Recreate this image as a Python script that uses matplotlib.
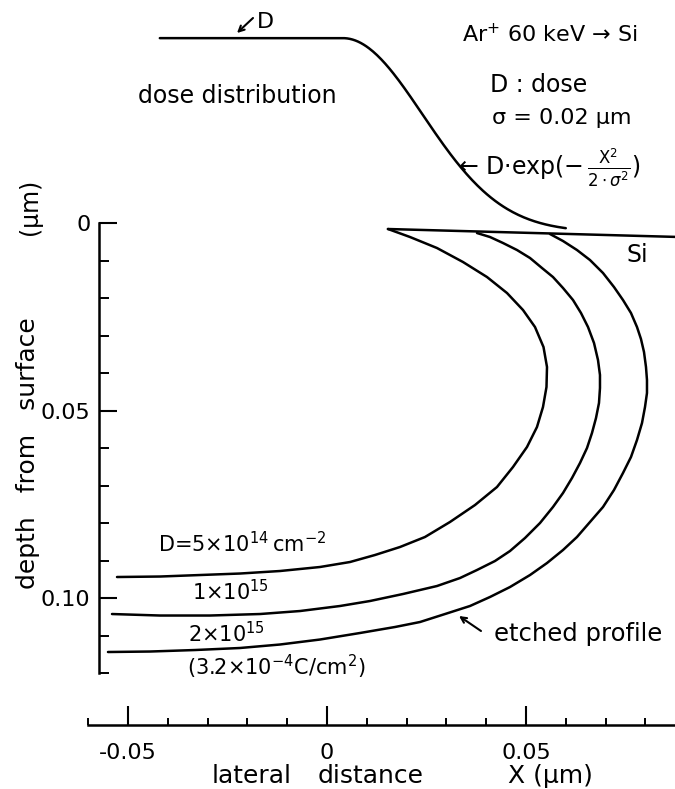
import numpy as np
import matplotlib
matplotlib.use("Agg")
import matplotlib.pyplot as plt
from matplotlib.ticker import FixedLocator, FixedFormatter

plt.rcParams['font.family'] = ['DejaVu Sans']
plt.rcParams['mathtext.fontset'] = 'dejavusans'

# ---- etched profiles: lateral position X (um) and depth from surface (um) ----
# D = 5e14 cm^-2
profile_5e14_x = [-0.05276, -0.04196, -0.03191, -0.02186, -0.01181, -0.00176, 0.00578,
                  0.01206, 0.01834, 0.02462, 0.03090, 0.03719, 0.04271, 0.04673,
                  0.05025, 0.05276, 0.05427, 0.05515, 0.05528, 0.05440, 0.05226,
                  0.04925, 0.04523, 0.04020, 0.03417, 0.02764, 0.02085, 0.01533]
profile_5e14_depth = [0.09440, 0.09427, 0.09387, 0.09347, 0.09280, 0.09173, 0.09040,
                      0.08853, 0.08640, 0.08373, 0.07973, 0.07520, 0.07040, 0.06507,
                      0.05973, 0.05440, 0.04907, 0.04373, 0.03840, 0.03307, 0.02773,
                      0.02320, 0.01867, 0.01440, 0.01040, 0.00667, 0.00373, 0.00160]

# D = 1e15 cm^-2
profile_1e15_x = [-0.05402, -0.04196, -0.02940, -0.01683, -0.00678, 0.00327, 0.01080,
                  0.01910, 0.02764, 0.03342, 0.03769, 0.04221, 0.04598, 0.04975,
                  0.05352, 0.05678, 0.05930, 0.06156, 0.06357, 0.06533, 0.06658,
                  0.06759, 0.06834, 0.06859, 0.06859, 0.06809, 0.06709, 0.06558,
                  0.06382, 0.06181, 0.05930, 0.05678, 0.05402, 0.05101, 0.04774,
                  0.04422, 0.04095, 0.03769]
profile_1e15_depth = [0.10427, 0.10467, 0.10467, 0.10427, 0.10347, 0.10213, 0.10080,
                      0.09893, 0.09680, 0.09467, 0.09253, 0.09013, 0.08747, 0.08400,
                      0.08000, 0.07573, 0.07200, 0.06800, 0.06400, 0.06000, 0.05600,
                      0.05200, 0.04800, 0.04400, 0.04053, 0.03653, 0.03200, 0.02773,
                      0.02400, 0.02053, 0.01733, 0.01440, 0.01200, 0.00933, 0.00720,
                      0.00533, 0.00373, 0.00267]

# D = 2e15 cm^-2
profile_2e15_x = [-0.05503, -0.04447, -0.03317, -0.02186, -0.01181, -0.00176, 0.00829,
                  0.01709, 0.02337, 0.02965, 0.03593, 0.04095, 0.04598, 0.05101,
                  0.05528, 0.05930, 0.06281, 0.06608, 0.06935, 0.07211, 0.07437,
                  0.07638, 0.07789, 0.07915, 0.07990, 0.08040, 0.08040, 0.08015,
                  0.07965, 0.07889, 0.07789, 0.07638, 0.07437, 0.07211, 0.06935,
                  0.06608, 0.06281, 0.05930, 0.05603]
profile_2e15_depth = [0.11440, 0.11427, 0.11387, 0.11333, 0.11240, 0.11107, 0.10933,
                      0.10773, 0.10640, 0.10427, 0.10213, 0.09973, 0.09707, 0.09387,
                      0.09067, 0.08720, 0.08373, 0.07973, 0.07573, 0.07120, 0.06667,
                      0.06240, 0.05787, 0.05333, 0.04907, 0.04533, 0.04187, 0.03840,
                      0.03440, 0.03093, 0.02773, 0.02400, 0.02053, 0.01707, 0.01333,
                      0.00987, 0.00720, 0.00480, 0.00293]

# Si surface line
surface_x = [0.0153, 0.08744]
surface_depth = [0.0016, 0.0037]

# dose distribution D*exp(-X^2 / (2 sigma^2)) beyond the mask edge
SIGMA = 0.02          # um
DOSE_EDGE = 0.004     # um, start of the Gaussian fall-off
dose_x = np.linspace(-0.042, 0.060, 300)
dose_rel = np.where(dose_x < DOSE_EDGE, 1.0,
                    np.exp(-(dose_x - DOSE_EDGE) ** 2 / (2 * SIGMA ** 2)))
# vertical placement of the schematic dose curve above the surface
DOSE_BASE = 0.0024
DOSE_TOP = -0.0493

# axis ticks
x_major = [-0.05, 0.0, 0.05]
x_major_labels = ['-0.05', '0', '0.05']
x_minor = [-0.06, -0.04, -0.03, -0.02, -0.01, 0.01, 0.02, 0.03, 0.04, 0.06, 0.07, 0.08]
y_major = [0.0, 0.05, 0.10]
y_major_labels = ['0', '0.05', '0.10']
y_minor = [0.01, 0.02, 0.03, 0.04, 0.06, 0.07, 0.08, 0.09, 0.11, 0.12]

W, H = 675, 789
fig = plt.figure(figsize=(W / 100, H / 100), dpi=100)
ax = fig.add_axes([0, 0, 1, 1])
ax.set_xlim(-0.08216, 0.08744)
ax.set_ylim(0.15093, -0.05947)
ax.patch.set_visible(False)


def pos(px, py):
    """Figure-fraction position from pixel coordinates (origin top-left)."""
    return px / W, 1 - py / H


LW = 1.8
line_kw = dict(color='black', lw=LW, solid_capstyle='round', solid_joinstyle='round')
for xs, ds in [(profile_5e14_x, profile_5e14_depth),
               (profile_1e15_x, profile_1e15_depth),
               (profile_2e15_x, profile_2e15_depth)]:
    ax.plot(xs, ds, **line_kw)
ax.plot(surface_x, surface_depth, **line_kw)
ax.plot(dose_x, DOSE_BASE + (DOSE_TOP - DOSE_BASE) * dose_rel, **line_kw)

# axes
for s in ('top', 'right'):
    ax.spines[s].set_visible(False)
for s in ('left', 'bottom'):
    ax.spines[s].set_linewidth(LW)
ax.spines['left'].set_position(('data', -0.0573))
ax.spines['left'].set_bounds(0, 0.12)
ax.spines['bottom'].set_position(('data', 0.1339))
ax.spines['bottom'].set_bounds(-0.06, 0.08744)

ax.xaxis.set_major_locator(FixedLocator(x_major))
ax.xaxis.set_major_formatter(FixedFormatter(x_major_labels))
ax.xaxis.set_minor_locator(FixedLocator(x_minor))
ax.yaxis.set_major_locator(FixedLocator(y_major))
ax.yaxis.set_major_formatter(FixedFormatter(y_major_labels))
ax.yaxis.set_minor_locator(FixedLocator(y_minor))
ax.tick_params(axis='x', which='major', direction='in', length=14, width=1.5,
               pad=13, labelsize=16)
ax.tick_params(axis='x', which='minor', direction='in', length=5, width=1.4)
ax.tick_params(axis='y', which='major', direction='in', length=13, width=1.5,
               pad=6, labelsize=16)
ax.tick_params(axis='y', which='minor', direction='in', length=7, width=1.4)

# axis titles
fig.text(*pos(212, 783), 'lateral', fontsize=18, ha='left', va='baseline')
fig.text(*pos(318, 783), 'distance', fontsize=18, ha='left', va='baseline')
fig.text(*pos(508, 783), 'X (μm)', fontsize=18, ha='left', va='baseline')
fig.text(*pos(28, 453), 'depth   from   surface', fontsize=18, rotation=90,
         ha='center', va='center')
fig.text(*pos(30, 207), '(μm)', fontsize=17, rotation=90, ha='center', va='center')

# annotations
fig.text(*pos(138, 103), 'dose distribution', fontsize=17, ha='left', va='baseline')
fig.text(*pos(257, 28), 'D', fontsize=16, ha='left', va='baseline')
ax.annotate('', xy=pos(237, 33), xytext=pos(253, 18),
            xycoords='figure fraction', textcoords='figure fraction',
            arrowprops=dict(arrowstyle='->', lw=1.5, color='black',
                            mutation_scale=10, shrinkA=0, shrinkB=0))
fig.text(*pos(462, 42), r'Ar$^{+}$ 60 keV → Si', fontsize=16, ha='left', va='baseline')
fig.text(*pos(490, 92), 'D : dose', fontsize=17, ha='left', va='baseline')
fig.text(*pos(492, 124), 'σ = 0.02 μm', fontsize=16, ha='left', va='baseline')
fig.text(*pos(458, 175),
         r'← D$\cdot$exp$(-\,\frac{\mathrm{X}^2}{2\cdot\sigma^2})$',
         fontsize=17, ha='left', va='baseline')
fig.text(*pos(627, 262), 'Si', fontsize=17, ha='left', va='baseline')

fig.text(*pos(158, 552), 'D=5×10$^{14}$\u2009cm$^{-2}$', fontsize=15,
         ha='left', va='baseline')
fig.text(*pos(192, 600), r'1×10$^{15}$', fontsize=15, ha='left', va='baseline')
fig.text(*pos(188, 642), r'2×10$^{15}$', fontsize=15, ha='left', va='baseline')
fig.text(*pos(187, 675), r'(3.2×10$^{-4}$C/cm$^{2}$)', fontsize=15,
         ha='left', va='baseline')

fig.text(*pos(494, 641), 'etched profile', fontsize=17.5, ha='left', va='baseline')
ax.annotate('', xy=pos(459, 616), xytext=pos(481, 631),
            xycoords='figure fraction', textcoords='figure fraction',
            arrowprops=dict(arrowstyle='->', lw=1.5, color='black',
                            mutation_scale=10, shrinkA=0, shrinkB=0))

fig.savefig('out.png', dpi=100, facecolor='white')
